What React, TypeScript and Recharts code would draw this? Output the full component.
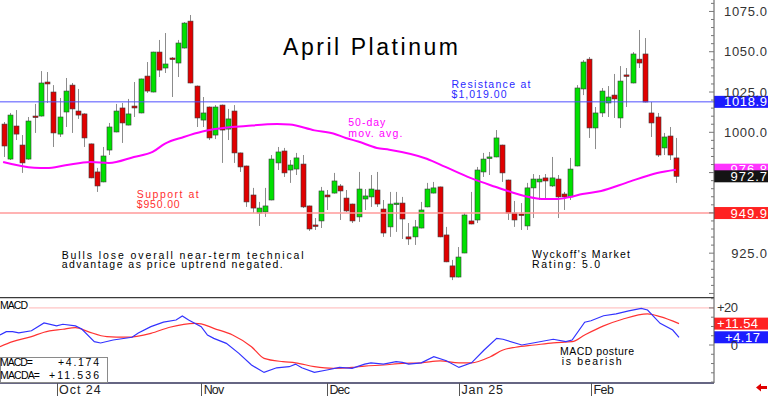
import React from 'react';
import { ComposedChart, Bar, Line, XAxis, YAxis, ReferenceLine } from 'recharts';

const FONT = "'Liberation Sans', Arial, sans-serif";

// ---- Daily OHLC (April Platinum) ----
const opens = [1005.1, 983.4, 1003.9, 992.1, 983.4, 1010.1, 1010.1, 1031.2, 1025.0, 998.9,
  1012.6, 1029.3, 1013.2, 1011.4, 992.8, 975.4, 969.2, 989.0, 1000.2, 1015.1,
  1004.5, 1016.3, 1012.0, 1034.9, 1025.0, 1049.8, 1039.9, 1046.1, 1043.0, 1052.3,
  1069.0, 1028.7, 1007.6, 1015.7, 998.3, 1016.9, 1002.0, 1013.2, 987.2, 979.1,
  961.1, 949.9, 950.6, 958.0, 981.0, 988.4, 976.6, 977.2, 980.3, 954.3,
  942.5, 945.0, 961.1, 962.3, 966.7, 959.2, 955.5, 947.5, 958.6, 959.9,
  964.2, 952.4, 941.3, 955.5, 956.1, 935.1, 935.1, 940.6, 953.7, 962.3,
  966.1, 936.3, 917.1, 910.2, 925.1, 945.0, 945.6, 975.4, 984.1, 984.7,
  992.1, 970.4, 949.9, 949.3, 941.9, 965.5, 969.2, 971.7, 966.7, 971.0,
  961.7, 959.9, 979.1, 1026.9, 1045.4, 1002.7, 1012.0, 1018.2, 1023.1, 1008.9,
  1035.6, 1030.6, 1045.4, 1048.6, 1012.0, 1009.5, 990.3, 997.7, 984.1];
const highs = [1006.4, 1012.0, 1013.8, 998.3, 1009.5, 1017.6, 1038.0, 1037.4, 1029.3, 1021.3,
  1033.7, 1030.6, 1026.9, 1011.8, 993.0, 977.9, 990.9, 1005.8, 1017.6, 1018.2,
  1020.7, 1031.2, 1033.3, 1043.6, 1050.0, 1057.3, 1061.6, 1046.7, 1057.3, 1068.4,
  1072.8, 1029.0, 1021.9, 1016.0, 1016.9, 1017.2, 1014.5, 1016.9, 987.4, 979.3,
  965.5, 956.8, 965.5, 985.9, 990.9, 990.3, 982.8, 987.2, 985.9, 954.5,
  946.8, 966.1, 964.2, 974.8, 967.9, 964.2, 955.7, 975.4, 964.8, 973.5,
  975.4, 958.0, 963.0, 963.0, 959.9, 943.7, 945.6, 956.8, 968.6, 969.2,
  966.3, 941.3, 920.8, 928.8, 949.9, 963.0, 978.5, 987.2, 987.8, 1001.4,
  992.3, 970.6, 957.4, 956.1, 968.6, 974.1, 973.5, 974.1, 984.7, 973.5,
  963.0, 984.1, 1029.3, 1044.8, 1046.7, 1015.7, 1027.5, 1028.7, 1036.2, 1041.1,
  1039.9, 1049.8, 1063.5, 1058.5, 1018.8, 1012.0, 999.6, 1003.3, 996.5];
const lows = [984.7, 982.8, 995.2, 974.8, 983.0, 999.6, 1009.8, 1018.2, 990.9, 997.1,
  1003.3, 999.6, 1008.3, 990.9, 971.5, 963.0, 969.0, 985.9, 1000.0, 993.4,
  1004.3, 1009.5, 1011.8, 1024.4, 1024.8, 1034.3, 1036.8, 1021.9, 1034.3, 1052.0,
  1030.4, 1003.3, 1003.3, 995.2, 995.8, 981.0, 995.2, 981.0, 975.4, 953.7,
  949.9, 941.9, 947.5, 957.8, 976.6, 972.3, 968.6, 973.5, 953.0, 938.8,
  939.4, 940.6, 951.8, 962.0, 945.6, 950.6, 943.7, 944.4, 951.8, 953.7,
  953.7, 935.1, 935.1, 938.2, 933.8, 930.1, 930.1, 940.4, 953.5, 962.1,
  934.9, 919.4, 908.3, 910.0, 925.0, 942.9, 943.7, 972.3, 973.5, 984.5,
  969.2, 945.6, 941.3, 939.4, 939.4, 946.8, 958.0, 958.0, 966.1, 946.8,
  951.8, 958.0, 978.9, 1023.1, 996.5, 989.6, 1009.5, 1009.5, 1008.9, 1002.7,
  1015.7, 1030.4, 1039.9, 1018.6, 997.1, 984.7, 985.9, 982.8, 968.6];
const closes = [991.5, 1010.7, 998.9, 981.0, 1007.0, 1009.5, 1030.6, 1030.0, 999.6, 1009.5,
  1025.6, 1014.5, 1010.7, 996.5, 971.7, 966.7, 985.3, 1003.3, 1013.2, 1005.8,
  1011.4, 1015.1, 1033.1, 1025.6, 1049.8, 1038.6, 1042.4, 1045.4, 1055.4, 1067.8,
  1030.6, 1008.9, 1012.0, 996.5, 1015.7, 1001.4, 1008.3, 987.2, 978.5, 956.8,
  953.0, 953.0, 954.3, 983.4, 987.8, 974.8, 979.7, 984.1, 953.7, 940.0,
  941.9, 963.6, 959.9, 969.8, 963.6, 951.2, 945.0, 964.8, 960.5, 964.8,
  955.5, 937.5, 955.5, 956.1, 946.2, 933.8, 941.3, 951.8, 964.8, 965.5,
  935.1, 919.6, 910.2, 922.6, 948.7, 943.1, 976.6, 983.4, 984.7, 996.5,
  974.8, 949.9, 945.6, 948.7, 965.5, 971.0, 971.0, 969.8, 971.7, 959.9,
  959.9, 977.2, 1027.5, 1043.6, 1002.7, 1012.0, 1025.6, 1021.9, 1020.7, 1031.8,
  1035.3, 1048.6, 1043.0, 1018.8, 1005.8, 985.9, 997.1, 985.9, 972.7];

// ---- 50-day moving average (read at selected bars) ----
const maIdx = [0, 5, 7, 10, 14, 17, 21, 24, 26, 29, 32, 34, 39, 44, 46, 50, 53, 55, 57, 60, 62, 68, 71, 75, 79, 81, 84, 87, 89, 91, 93, 96, 100, 105, 108];
const maVal = [981.6, 978.0, 977.8, 979.5, 981.6, 981.0, 984.7, 987.8, 993.0, 997.1, 1000.5, 1002.0, 1003.9, 1005.1, 1004.8, 1001.2, 999.3, 996.5, 994.3, 990.3, 989.2, 983.6, 978.5, 971.7, 966.2, 963.6, 960.2, 958.6, 958.6, 959.9, 961.7, 963.6, 968.6, 974.8, 976.8];

// ---- MACD (blue) and MACD average (red) ----
const macdIdx = [0, 1, 2, 3, 5, 7, 9, 10, 12, 13, 15, 16, 18, 21, 22, 24, 26, 28, 29, 30, 32, 33, 34, 36, 38, 40, 42, 44, 46, 47, 48, 50, 52, 54, 56, 58, 59, 61, 63, 64, 65, 67, 69, 71, 73, 75, 77, 79, 80, 83, 85, 88, 90, 91, 93, 94, 96, 98, 100, 102, 103, 105, 107, 108];
const macdVal = [5.4, 7.2, 7.2, 6.5, 7.7, 11.9, 10.3, 11.2, 10.3, 8.6, 1.8, 1.1, 2.7, 4.2, 6.5, 9.9, 12.3, 13.5, 15.7, 13.5, 9.9, 5.4, 3.6, 0.9, -4.5, -10.8, -14.8, -12.3, -11.7, -10.3, -12.3, -14.8, -13.5, -12.1, -12.6, -10.3, -9.6, -10.3, -9.0, -9.4, -10.3, -9.6, -6.3, -8.5, -12.1, -9.6, -2.7, 3.6, 3.1, 0, 1.2, 3.1, 1.8, 2.7, 12.3, 13.1, 15.8, 16.8, 18.4, 19.8, 18.9, 11.7, 8.1, 4.174];
const sigIdx = [0, 2, 5, 7, 10, 12, 14, 17, 20, 24, 27, 31, 32, 34, 37, 40, 42, 45, 47, 50, 53, 56, 58, 61, 64, 67, 70, 73, 75, 78, 80, 82, 85, 88, 91, 93, 96, 99, 103, 105, 108];
const sigVal = [-0.9, 1.8, 4.5, 6.9, 8.5, 9.4, 7.2, 4.5, 4.2, 6.3, 9.6, 11.7, 11.4, 9.0, 5.4, -0.9, -7.2, -9.0, -9.6, -11.7, -12.6, -12.1, -11.4, -10.8, -9.9, -9.6, -8.6, -9.6, -9.6, -6.3, -2.7, -1.2, 0, 1.2, 1.8, 5.4, 10.3, 13.9, 16.8, 15.3, 11.536];

// ---- axis labels / levels ----
const monthIdx = [9, 32, 52, 73, 94];
const monthLabels = ['Oct 24', 'Nov', 'Dec', 'Jan 25', 'Feb'];
const priceTicks = [900, 905, 910, 915, 920, 925, 930, 935, 940, 945, 950, 955, 960, 965, 970, 975, 980, 985, 990, 995, 1000, 1005, 1010, 1015, 1020, 1025, 1030, 1035, 1040, 1045, 1050, 1055, 1060, 1065, 1070, 1075, 1080];
const priceLabels = [925, 1000, 1025, 1050, 1075];
const macdTicks = [-20, -15, -10, -5, 0, 5, 10, 15, 20, 25];
const resistance = 1018.9;
const support = 949.9;
const maLast = 976.8;
const closeLast = 972.7;
const macdLast = 4.17;
const sigLast = 11.54;

type Row = { i: number; o: number; h: number; l: number; c: number; range: number[]; ma: number | null; macd: number | null; sig: number | null };
const rows: Row[] = opens.map((o, i) => ({ i, o, h: highs[i], l: lows[i], c: closes[i], range: [lows[i], highs[i]], ma: null, macd: null, sig: null }));
maIdx.forEach((k, j) => { rows[k].ma = maVal[j]; });
macdIdx.forEach((k, j) => { rows[k].macd = macdVal[j]; });
sigIdx.forEach((k, j) => { rows[k].sig = sigVal[j]; });

function Candle(props: any) {
  const { x, y, width, height, payload } = props;
  if (!payload || height == null) return <g />;
  const { o, h, l, c } = payload;
  let top = y, hh = height;
  if (hh < 0) { top = y + hh; hh = -hh; }
  const k = hh / (h - l);
  const py = (v: number) => top + (h - v) * k;
  const cx = Math.round(x + width / 2) + 0.5;
  const up = c >= o;
  const bTop = py(Math.max(o, c));
  const bBot = py(Math.min(o, c));
  return (
    <g>
      <line x1={cx} x2={cx} y1={top} y2={top + hh} stroke="#8c8c8c" strokeWidth={1} />
      <rect x={cx - 2.5} y={bTop} width={5} height={Math.max(bBot - bTop, 1.5)} fill={up ? '#00e000' : '#e00000'} stroke="#3a3a3a" strokeWidth={0.6} />
    </g>
  );
}

const numW = (s: string) => s.length * 7.15;

function PriceTick(props: any) {
  const { x, y, payload } = props;
  const v = payload.value;
  const major = v % 25 === 0;
  const s = v.toFixed(1);
  return (
    <g>
      <line x1={x - (major ? 5 : 3)} x2={x} y1={y} y2={y} stroke="#777" />
      {priceLabels.includes(v) && (
        <text x={x + 53} y={y + 4.5} textAnchor="end" fontSize={13} fontFamily={FONT} fill="#333" textLength={numW(s)} lengthAdjust="spacing">{s}</text>
      )}
    </g>
  );
}

function MacdTick(props: any) {
  const { x, y, payload } = props;
  const v = payload.value;
  const major = v === 0 || v === 20;
  const s = v === 0 ? '0' : '+20';
  return (
    <g>
      <line x1={x - (major ? 5 : 3)} x2={x} y1={y} y2={y} stroke="#777" />
      {major && (
        <text x={x + 24} y={y + 4.5} textAnchor="end" fontSize={13} fontFamily={FONT} fill="#333" textLength={v === 0 ? 6.5 : 21} lengthAdjust="spacing">{s}</text>
      )}
    </g>
  );
}

function MonthTick(props: any) {
  const { x, y, payload } = props;
  const j = monthIdx.indexOf(payload.value);
  if (j < 0) return <g />;
  const lab = monthLabels[j];
  const w = lab.length > 3 ? 41.5 : 20.5;
  return (
    <g>
      <line x1={Math.round(x) + 0.5} x2={Math.round(x) + 0.5} y1={y} y2={y + 13} stroke="#555" />
      <text x={x + 2.5} y={y + 10.5} fontSize={12.5} fontFamily={FONT} fill="#222" textLength={w} lengthAdjust="spacing">{lab}</text>
    </g>
  );
}

const tag = (text: string, bg: string, right: number, w: number) => (p: any) => {
  const vb = p.viewBox || {};
  const x0 = (vb.x ?? 0) + (vb.width ?? 0);
  const yc = vb.y ?? 0;
  return (
    <g>
      <rect x={x0} y={yc - 6} width={54} height={12} fill={bg} />
      <text x={x0 + right} y={yc + 4.5} textAnchor="end" fontSize={13} fontFamily={FONT} fill="#fff" textLength={w} lengthAdjust="spacing">{text}</text>
    </g>
  );
};

const T = (p: { x: number; y: number; w: number; c?: string; anchor?: string; children: React.ReactNode }) => (
  <text x={p.x} y={p.y} fontSize={10.5} fontFamily={FONT} fill={p.c || '#000'} textLength={p.w} lengthAdjust="spacing" textAnchor={p.anchor || 'start'}>{p.children}</text>
);

export default function App() {
  const xPad = { left: 0, right: 35 };
  return (
    <div style={{ position: 'absolute', left: 0, top: 0, width: 768, height: 396, background: '#fff' }}>
      <ComposedChart width={768} height={297} data={rows} margin={{ top: 0, right: 0, bottom: 0, left: 0 }}>
        <XAxis dataKey="i" type="category" hide padding={xPad} />
        <YAxis orientation="right" width={54} type="number" domain={[897.8, 1082.1]} allowDataOverflow ticks={priceTicks} interval={0}
          tick={<PriceTick />} tickLine={false} tickSize={0} tickMargin={0} axisLine={{ stroke: '#555' }} />
        <ReferenceLine y={support} stroke="#ff9a9a" strokeWidth={1.5} label={tag(support.toFixed(1), '#ff2222', 53, 36.5)} />
        <ReferenceLine y={resistance} stroke="#5050ff" strokeWidth={1} label={tag(resistance.toFixed(1), '#1c1cff', 53, 43)} />
        <Bar dataKey="range" barSize={5} isAnimationActive={false} activeBar={false} shape={(p: any) => <Candle {...p} />} />
        <Line dataKey="ma" type="monotone" stroke="#ff00ff" strokeWidth={2} dot={false} activeDot={false} connectNulls isAnimationActive={false} />
        <ReferenceLine y={maLast} stroke="none" label={tag(maLast.toFixed(1), '#ff33ff', 53, 36.5)} />
        <ReferenceLine y={closeLast} stroke="none" label={tag(closeLast.toFixed(1), '#141414', 53, 36.5)} />
      </ComposedChart>
      <ComposedChart width={768} height={99} data={rows} margin={{ top: 0, right: 0, bottom: 0, left: 0 }}>
        <XAxis dataKey="i" type="category" padding={xPad} height={13} interval={0} tick={<MonthTick />} tickLine={false} tickSize={0} tickMargin={0}
          axisLine={{ stroke: '#33335a', strokeWidth: 1.5 }} />
        <YAxis orientation="right" width={54} type="number" domain={[-20.5, 25.9]} allowDataOverflow ticks={macdTicks} interval={0}
          tick={<MacdTick />} tickLine={false} tickSize={0} tickMargin={0} axisLine={{ stroke: '#555' }} />
        <ReferenceLine y={25.9} stroke="#3a3a3a" strokeWidth={2.5} />
        <ReferenceLine y={20} stroke="#ffb5b5" strokeWidth={1} />
        <Line dataKey="sig" type="monotone" stroke="#ff3333" strokeWidth={1.2} dot={false} activeDot={false} connectNulls isAnimationActive={false} />
        <Line dataKey="macd" type="linear" stroke="#3333ff" strokeWidth={1.2} dot={false} activeDot={false} connectNulls isAnimationActive={false} />
        <ReferenceLine y={sigLast} stroke="none" label={tag('+' + sigLast.toFixed(2), '#ff2222', 44, 41)} />
        <ReferenceLine y={macdLast} stroke="none" label={tag('+' + macdLast.toFixed(2), '#1c1cff', 46, 35)} />
      </ComposedChart>
      <svg width={768} height={396} style={{ position: 'absolute', left: 0, top: 0, pointerEvents: 'none' }}>
        <text x={283} y={55} fontSize={23} fontFamily={FONT} fill="#000" textLength={175} lengthAdjust="spacing">April Platinum</text>
        <T x={451.5} y={87.5} w={79} c="#2a2aff">Resistance at</T>
        <T x={451.5} y={97.5} w={55} c="#2a2aff">$1,019.00</T>
        <T x={348.3} y={126.2} w={37} c="#ff00ff">50-day</T>
        <T x={348.3} y={136.8} w={54} c="#ff00ff">mov. avg.</T>
        <T x={136.7} y={197.8} w={62} c="#ff3030">Support at</T>
        <T x={136.7} y={207.8} w={43} c="#ff3030">$950.00</T>
        <T x={61.7} y={259.3} w={242}>Bulls lose overall near-term technical</T>
        <T x={61.7} y={268.3} w={221}>advantage as price uptrend negated.</T>
        <T x={532} y={257.5} w={98}>Wyckoff's Market</T>
        <T x={532} y={267.8} w={68}>Rating: 5.0</T>
        <rect x={0} y={299} width={29} height={11} fill="#fff" />
        <T x={0} y={308.7} w={28}>MACD</T>
        <T x={560} y={355.2} w={74}>MACD posture</T>
        <T x={561.7} y={364.8} w={60}>is bearish</T>
        <rect x={0.5} y={357.5} width={107} height={25} fill="#fff" stroke="#8a8a8a" />
        <T x={0} y={366.3} w={33}>MACD=</T>
        <T x={99} y={366.3} w={41} anchor="end">+4.174</T>
        <T x={0} y={378.6} w={40}>MACDA=</T>
        <T x={99} y={378.6} w={50} anchor="end">+11.536</T>
        <polygon points="756,387.5 761,383.5 761,386 767,386 767,389 761,389 761,391.5" fill="#e00000" />
      </svg>
    </div>
  );
}
